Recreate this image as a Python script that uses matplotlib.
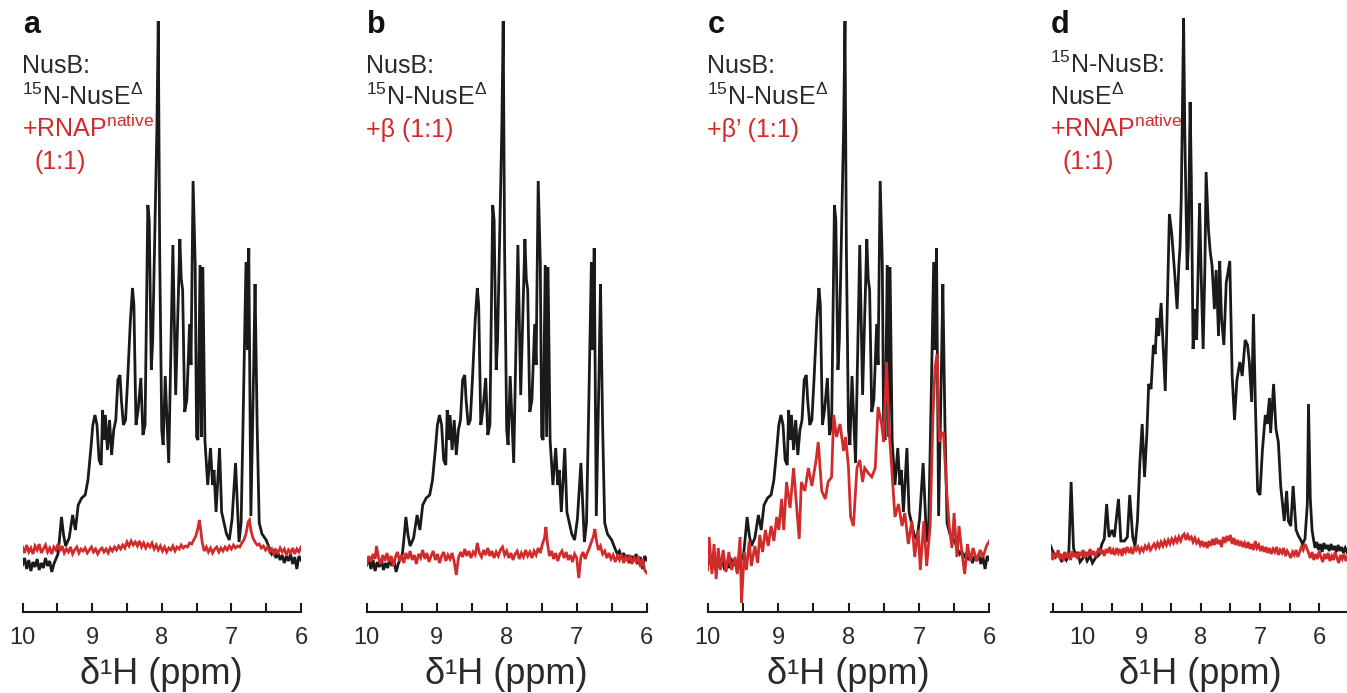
import matplotlib
matplotlib.use("Agg")
import matplotlib.pyplot as plt
from matplotlib.ticker import MultipleLocator

plt.rcParams['font.family'] = ['Liberation Sans', 'DejaVu Sans']
plt.rcParams['mathtext.fontset'] = 'custom'
plt.rcParams['mathtext.rm'] = 'Liberation Sans'
plt.rcParams['mathtext.default'] = 'regular'

#---------------------------------------------------
# data (chemical shift in ppm, intensity in arbitrary units, baseline = 0)
#---------------------------------------------------

# NusB:15N-NusE(delta) reference spectrum, shown black in panels a, b, c
ppm_nuse = [10.00, 9.97, 9.94, 9.91, 9.88, 9.85, 9.82, 9.79, 9.76, 9.73, 9.70, 9.67, 9.64, 9.61,
            9.58, 9.55, 9.52, 9.49, 9.47, 9.44, 9.41, 9.38, 9.33, 9.28, 9.24, 9.20, 9.15, 9.10,
            9.06, 9.02, 8.99, 8.96, 8.93, 8.90, 8.87, 8.85, 8.83, 8.81, 8.78, 8.75, 8.72, 8.69,
            8.66, 8.63, 8.60, 8.58, 8.55, 8.52, 8.49, 8.45, 8.42, 8.40, 8.37, 8.34, 8.30, 8.27,
            8.24, 8.20, 8.18, 8.15, 8.13, 8.09, 8.07, 8.05, 8.03, 8.00, 7.98, 7.95, 7.90, 7.84,
            7.80, 7.74, 7.72, 7.70, 7.67, 7.64, 7.60, 7.58, 7.55, 7.52, 7.50, 7.48, 7.45, 7.43,
            7.41, 7.38, 7.34, 7.30, 7.27, 7.25, 7.22, 7.17, 7.14, 7.07, 7.03, 6.99, 6.94, 6.89,
            6.86, 6.83, 6.79, 6.77, 6.75, 6.72, 6.68, 6.66, 6.63, 6.60, 6.56, 6.50, 6.45, 6.42,
            6.39, 6.36, 6.33, 6.30, 6.27, 6.24, 6.21, 6.18, 6.15, 6.12, 6.09, 6.06, 6.03, 6.00]
h_nuse = [-15, -8, -19, -10, -21, -12, -17, -9, -20, -13, -18, -8, -16, -11,
          -22, -14, -9, -4, 10, 33, 15, 4, 12, 35, 20, 45, 52, 55,
          70, 100, 125, 135, 125, 90, 85, 140, 110, 135, 100, 130, 95, 120,
          130, 170, 175, 150, 125, 130, 170, 230, 262, 245, 125, 140, 172, 115,
          125, 345, 330, 180, 210, 350, 420, 529, 300, 120, 105, 174, 87, 305,
          155, 311, 271, 260, 138, 150, 226, 185, 369, 287, 113, 110, 285, 113,
          283, 110, 65, 102, 65, 80, 38, 102, 38, 16, 10, 31, 87, 8,
          27, 136, 288, 200, 302, 34, 181, 266, 125, 27, 16, 10, 1, -4,
          -1, -8, -3, -10, -5, -13, -6, -11, -4, -14, -7, -19, -6, -10]

# panel a: + RNAP native
ppm_red_a = [10.00, 9.97, 9.94, 9.91, 9.88, 9.85, 9.82, 9.79, 9.76, 9.73, 9.70, 9.67, 9.64, 9.61,
             9.58, 9.55, 9.52, 9.49, 9.46, 9.43, 9.40, 9.37, 9.34, 9.31, 9.28, 9.25, 9.22, 9.19,
             9.16, 9.13, 9.10, 9.07, 9.04, 9.01, 8.98, 8.95, 8.92, 8.89, 8.86, 8.83, 8.80, 8.77,
             8.74, 8.71, 8.68, 8.65, 8.62, 8.59, 8.56, 8.53, 8.50, 8.47, 8.44, 8.41, 8.38, 8.35,
             8.32, 8.29, 8.26, 8.23, 8.20, 8.17, 8.14, 8.11, 8.08, 8.05, 8.02, 7.99, 7.96, 7.93,
             7.90, 7.87, 7.84, 7.81, 7.78, 7.75, 7.72, 7.69, 7.66, 7.63, 7.60, 7.57, 7.54, 7.51,
             7.48, 7.46, 7.44, 7.42, 7.39, 7.36, 7.33, 7.30, 7.27, 7.24, 7.21, 7.18, 7.15, 7.12,
             7.09, 7.06, 7.03, 7.00, 6.97, 6.94, 6.91, 6.88, 6.85, 6.82, 6.79, 6.76, 6.74, 6.72,
             6.69, 6.66, 6.63, 6.60, 6.57, 6.54, 6.51, 6.48, 6.45, 6.42, 6.39, 6.36, 6.33, 6.30,
             6.27, 6.24, 6.21, 6.18, 6.15, 6.12, 6.09, 6.06, 6.03, 6.00]
h_red_a = [3, -3, 5, -2, 2, -4, 4, 0, 6, -3, 1, 5, -2, 2,
           -4, 3, 0, 6, -1, 4, -3, 1, -2, 3, -4, 0, 3, -3,
           1, -1, 2, -3, 0, 3, -2, 1, -4, 0, 2, -2, 1, -3,
           2, -1, 3, 0, 4, 1, 5, 2, 8, 4, 9, 5, 8, 4,
           9, 3, 7, 2, 6, 3, 7, 1, 5, 0, 4, -1, 3, -2,
           2, 0, 4, -1, 3, 1, 5, 2, 4, 3, 7, 6, 10, 14,
           22, 30, 20, 8, -1, 3, -2, 2, -3, 1, 3, -2, 2, -1,
           3, 0, 4, 1, 5, 2, 4, 3, 7, 10, 16, 28, 30, 20,
           12, 8, 5, 6, 2, 4, 0, 3, -2, 1, -4, 0, -3, 2,
           -2, 1, -5, 0, -3, 2, -4, 1, -2, 3]

# panel b: + beta
ppm_red_b = [10.00, 9.97, 9.94, 9.91, 9.88, 9.86, 9.83, 9.80, 9.77, 9.74, 9.71, 9.68, 9.65, 9.62,
             9.59, 9.56, 9.53, 9.50, 9.47, 9.44, 9.41, 9.38, 9.35, 9.32, 9.29, 9.26, 9.23, 9.20,
             9.17, 9.14, 9.11, 9.08, 9.05, 9.02, 8.99, 8.96, 8.93, 8.90, 8.87, 8.84, 8.81, 8.78,
             8.75, 8.72, 8.69, 8.66, 8.63, 8.60, 8.57, 8.54, 8.51, 8.48, 8.45, 8.42, 8.39, 8.36,
             8.33, 8.30, 8.27, 8.24, 8.21, 8.18, 8.15, 8.12, 8.09, 8.06, 8.03, 8.00, 7.97, 7.94,
             7.91, 7.88, 7.85, 7.82, 7.79, 7.76, 7.73, 7.70, 7.67, 7.64, 7.61, 7.58, 7.55, 7.52,
             7.49, 7.46, 7.44, 7.42, 7.39, 7.36, 7.33, 7.30, 7.27, 7.24, 7.21, 7.18, 7.15, 7.12,
             7.09, 7.06, 7.03, 7.00, 6.97, 6.94, 6.91, 6.88, 6.85, 6.82, 6.79, 6.76, 6.74, 6.72,
             6.69, 6.66, 6.63, 6.60, 6.57, 6.54, 6.51, 6.48, 6.45, 6.42, 6.39, 6.36, 6.33, 6.30,
             6.27, 6.24, 6.21, 6.18, 6.15, 6.12, 6.09, 6.06, 6.03, 6.00]
h_red_b = [-14, -6, -12, -4, -9, 4, -8, -14, -5, -11, -3, -12, -6, -16,
           -7, -2, -11, -5, -13, -3, -9, -1, -10, -5, -14, -4, -8, 0,
           -9, -3, -12, -6, -1, -10, -4, -13, -6, -2, -11, -5, -9, -3,
           -12, -25, -8, -2, -7, 1, -6, -1, -8, -2, -5, 7, -3, -7,
           0, -5, 2, -6, -1, -8, -2, -6, 0, 3, -5, -1, -8, -3,
           -10, -4, -1, -9, -3, -7, 0, -6, -2, -8, -1, -5, 2, -3,
           6, 12, 23, 8, -6, -1, -9, -3, -11, -4, -1, -8, -2, -10,
           -5, -12, -4, -8, -28, -7, -2, -9, -3, 2, 8, 14, 21, 10,
           0, 4, -4, -1, -8, -3, -9, -5, -12, -6, -10, -4, -13, -7,
           -11, -5, -14, -8, -12, -6, -17, -9, -20, -23]

# panel c: + beta'
ppm_red_c = [10.00, 9.98, 9.94, 9.91, 9.88, 9.85, 9.82, 9.78, 9.74, 9.70, 9.66, 9.61, 9.58, 9.54,
             9.52, 9.48, 9.45, 9.41, 9.38, 9.33, 9.29, 9.26, 9.22, 9.18, 9.14, 9.10, 9.06, 9.02,
             8.99, 8.95, 8.92, 8.88, 8.83, 8.78, 8.74, 8.70, 8.67, 8.62, 8.57, 8.52, 8.49, 8.46,
             8.43, 8.38, 8.33, 8.29, 8.24, 8.21, 8.17, 8.12, 8.07, 8.04, 8.00, 7.97, 7.93, 7.88,
             7.84, 7.80, 7.77, 7.72, 7.67, 7.62, 7.58, 7.53, 7.50, 7.46, 7.42, 7.39, 7.34, 7.29,
             7.24, 7.20, 7.15, 7.10, 7.06, 7.01, 6.98, 6.93, 6.89, 6.84, 6.80, 6.77, 6.74, 6.71,
             6.68, 6.65, 6.61, 6.57, 6.53, 6.50, 6.46, 6.43, 6.39, 6.35, 6.31, 6.27, 6.23, 6.18,
             6.13, 6.09, 6.04, 6.00]
h_red_c = [-20, 13, -24, 6, -29, 2, -20, 0, -22, -2, -20, -7, -24, 13,
           -53, -2, -20, 9, -16, 4, -13, 15, -2, 20, 4, 24, 9, 33,
           20, 51, 20, 68, 42, 82, 46, 11, 68, 59, 82, 64, 77, 90,
           108, 59, 51, 68, 73, 135, 113, 126, 99, 113, 82, 33, 24, 82,
           90, 68, 82, 77, 73, 82, 143, 126, 108, 188, 117, 86, 33, 46,
           24, 37, 6, 29, -7, 20, -20, 29, -16, 24, 135, 183, 196, 108,
           117, 117, 64, 24, 2, 37, -7, 24, -2, -24, 6, -11, 2, -11,
           0, -7, 4, 9]

# panel d: 15N-NusB:NusE(delta) alone (black) and + RNAP native (red)
ppm_nusb = [10.55, 10.51, 10.45, 10.40, 10.35, 10.31, 10.27, 10.23, 10.19, 10.15, 10.11, 10.08,
            10.04, 10.00, 9.96, 9.92, 9.87, 9.83, 9.78, 9.72, 9.67, 9.63, 9.59, 9.55, 9.50,
            9.46, 9.39, 9.35, 9.29, 9.24, 9.20, 9.15, 9.11, 9.07, 9.03, 8.99, 8.95, 8.91, 8.88,
            8.84, 8.80, 8.77, 8.74, 8.71, 8.67, 8.63, 8.60, 8.57, 8.53, 8.49, 8.44, 8.40, 8.37,
            8.35, 8.33, 8.29, 8.27, 8.23, 8.21, 8.18, 8.16, 8.13, 8.10, 8.07, 8.02, 7.99, 7.96,
            7.93, 7.91, 7.87, 7.84, 7.81, 7.77, 7.74, 7.70, 7.68, 7.65, 7.61, 7.57, 7.51, 7.47,
            7.43, 7.39, 7.34, 7.30, 7.25, 7.21, 7.18, 7.14, 7.11, 7.08, 7.04, 7.00, 6.96, 6.91,
            6.88, 6.84, 6.82, 6.77, 6.73, 6.69, 6.65, 6.62, 6.59, 6.55, 6.52, 6.48, 6.44, 6.39,
            6.35, 6.32, 6.28, 6.24, 6.20, 6.18, 6.15, 6.12, 6.10, 6.07, 6.04, 6.01, 5.98, 5.95,
            5.92, 5.89, 5.86, 5.83, 5.80, 5.77, 5.74, 5.71, 5.68, 5.65, 5.62, 5.59, 5.56, 5.53,
            5.50]
h_nusb = [6, 0, -7, -3, -12, -5, -10, -5, 68, 2, -6, -2, -12, -9, -4, -11, -6, -13, -8, -5, 6, 11,
          46, 13, 20, 13, 51, 9, 9, 13, 55, 13, 4, 29, 86, 126, 73, 117, 166,
          161, 205, 196, 232, 214, 247, 196, 159, 232, 336, 316, 276, 241, 285,
          303, 351, 532, 417, 280, 303, 448, 373, 201, 241, 210, 347, 267, 201,
          285, 378, 320, 298, 285, 241, 280, 214, 289, 232, 205, 267, 289, 174,
          130, 170, 188, 174, 210, 205, 188, 148, 236, 152, 59, 55, 99, 135,
          126, 152, 117, 166, 121, 108, 64, 46, 29, 59, 29, 24, 64, 20,
          14, 11, 6, 11, 46, 146, 51, 20, 12, 2, 8, 0, 6, -2,
          7, 1, 5, -1, 6, 0, 4, -2, 5, -1, 3, -3, 2, -2,
          1]

ppm_red_d = [10.56, 10.53, 10.50, 10.47, 10.44, 10.41, 10.38, 10.35, 10.32, 10.29, 10.26, 10.23,
             10.20, 10.17, 10.14, 10.11, 10.08, 10.05, 10.02, 9.99, 9.96, 9.93, 9.90, 9.87,
             9.84, 9.81, 9.78, 9.75, 9.72, 9.69, 9.66, 9.63, 9.60, 9.57, 9.54, 9.51, 9.48,
             9.45, 9.42, 9.39, 9.36, 9.33, 9.30, 9.27, 9.24, 9.21, 9.18, 9.15, 9.12, 9.09,
             9.06, 9.03, 9.00, 8.97, 8.94, 8.91, 8.88, 8.85, 8.82, 8.79, 8.76, 8.73, 8.70,
             8.67, 8.64, 8.61, 8.58, 8.55, 8.52, 8.49, 8.46, 8.43, 8.40, 8.37, 8.34, 8.31,
             8.28, 8.25, 8.22, 8.19, 8.16, 8.13, 8.10, 8.07, 8.04, 8.01, 7.98, 7.95, 7.92,
             7.89, 7.86, 7.83, 7.80, 7.77, 7.74, 7.71, 7.68, 7.65, 7.62, 7.59, 7.56, 7.53,
             7.50, 7.47, 7.44, 7.41, 7.38, 7.35, 7.32, 7.29, 7.26, 7.23, 7.20, 7.17, 7.14,
             7.11, 7.08, 7.05, 7.02, 6.99, 6.96, 6.93, 6.90, 6.87, 6.84, 6.81, 6.78, 6.75,
             6.72, 6.69, 6.66, 6.63, 6.60, 6.57, 6.54, 6.51, 6.48, 6.45, 6.42, 6.39, 6.36,
             6.33, 6.30, 6.27, 6.24, 6.21, 6.18, 6.15, 6.12, 6.09, 6.06, 6.03, 6.00, 5.97,
             5.94, 5.91, 5.88, 5.85, 5.82, 5.79, 5.76, 5.73, 5.70, 5.67, 5.64, 5.61, 5.58,
             5.55, 5.52, 5.50]
h_red_d = [-8, -1, -10, -3, -7, 0, -9, -4, -11, -2, -8, -3,
           -10, -1, -7, -3, -9, -2, -6, 0, -8, -2, -6, 1,
           -5, -1, -7, -2, 2, -4, 0, -6, 1, -3, 3, -4, 0,
           -5, 2, -3, 1, -6, 2, -2, 3, -3, 1, -4, 4, 0,
           3, -2, 2, -1, 4, 1, 5, 0, 3, 6, 2, 7, 3,
           8, 4, 9, 5, 10, 6, 11, 7, 12, 8, 13, 9, 14,
           16, 10, 15, 11, 13, 8, 12, 7, 10, 5, 9, 3, 8,
           2, 9, 4, 11, 5, 12, 6, 10, 3, 13, 7, 14, 9,
           15, 6, 12, 5, 10, 4, 9, 3, 7, 2, 8, 1, 6,
           0, 9, 2, 5, -1, 4, -2, 3, -3, 2, -4, 1, -2,
           3, -5, 0, -3, 2, -6, -1, -4, -8, -2, -5, 0, -7,
           -2, 3, 0, 6, 2, -3, -8, -2, -10, -4, -9, -1, -7,
           -12, -4, -9, -3, -11, -6, -10, -2, -8, -13, -5, -9, -4,
           -11, -6, -9]

BLACK = '#1a1a1a'
RED = '#d22b2b'
TEXT = '#2a2a2a'

W, H = 1347, 693

def fx(px):
    return px / W

def fy(py):
    return 1 - py / H

#---------------------------------------------------
# figure
#---------------------------------------------------

fig = plt.figure(figsize=(W / 100, H / 100), dpi=100)

panels = [
    # left px, right px, xlim, black, red, letter, text lines
    dict(left=22.5, right=301.0, xlim=(10, 6), black=(ppm_nuse, h_nuse), red=(ppm_red_a, h_red_a),
         letter='a', lines=[('NusB:', TEXT, 0), (r'$^{15}$N-NusE$^{\Delta}$', TEXT, 0),
                            (r'+RNAP$^{native}$', RED, 0), ('(1:1)', RED, 13)]),
    dict(left=366.7, right=646.7, xlim=(10, 6), black=(ppm_nuse, h_nuse), red=(ppm_red_b, h_red_b),
         letter='b', lines=[('NusB:', TEXT, 0), (r'$^{15}$N-NusE$^{\Delta}$', TEXT, 0),
                            ('+β (1:1)', RED, 0)]),
    dict(left=707.7, right=989.3, xlim=(10, 6), black=(ppm_nuse, h_nuse), red=(ppm_red_c, h_red_c),
         letter='c', lines=[('NusB:', TEXT, 0), (r'$^{15}$N-NusE$^{\Delta}$', TEXT, 0),
                            ('+β\u2019 (1:1)', RED, 0)]),
    dict(left=1051.0, right=1347.0, xlim=(10.53, 5.53), black=(ppm_nusb, h_nusb), red=(ppm_red_d, h_red_d),
         letter='d', lines=[(r'$^{15}$N-NusB:', TEXT, 0), (r'NusE$^{\Delta}$', TEXT, 0),
                            (r'+RNAP$^{native}$', RED, 0), ('(1:1)', RED, 13)]),
]

spine_y = 612
for p in panels:
    ax = fig.add_axes([fx(p['left']), fy(spine_y), fx(p['right'] - p['left']), spine_y / H])
    ax.plot(p['black'][0], p['black'][1], color=BLACK, lw=2.0, solid_joinstyle='miter')
    ax.plot(p['red'][0], p['red'][1], color=RED, lw=2.0, solid_joinstyle='miter')
    ax.set_xlim(*p['xlim'])
    ax.set_ylim(-62, 550)
    for s in ['top', 'left', 'right']:
        ax.spines[s].set_visible(False)
    ax.spines['bottom'].set_linewidth(1.5)
    ax.spines['bottom'].set_color(BLACK)
    ax.set_yticks([])
    ax.xaxis.set_major_locator(MultipleLocator(1))
    ax.xaxis.set_minor_locator(MultipleLocator(0.5))
    ax.tick_params(axis='x', which='both', direction='in', length=6.5, width=1.5,
                   color=BLACK, labelsize=17, labelcolor=TEXT, pad=11)
    ax.set_xticklabels([f'{int(round(t))}' for t in ax.get_xticks()])
    ax.patch.set_visible(False)

    # panel letter and annotation
    tx = p['left'] - 0.5 if p['letter'] != 'd' else p['left'] - 1
    fig.text(fx(tx + 1), fy(33), p['letter'], fontsize=22, fontweight='bold',
             color='#111111', va='baseline', ha='left')
    for i, (txt, col, indent) in enumerate(p['lines']):
        fig.text(fx(tx + indent), fy(73 + i * 32), txt, fontsize=18, color=col,
                 va='baseline', ha='left')

    # x label
    xc = p['left'] + (p['right'] - p['left']) / 2 if p['letter'] != 'd' else 1200
    fig.text(fx(xc), fy(684), 'δ¹H (ppm)', fontsize=26, color=TEXT,
             va='baseline', ha='center')

fig.savefig('out.png', dpi=100)
